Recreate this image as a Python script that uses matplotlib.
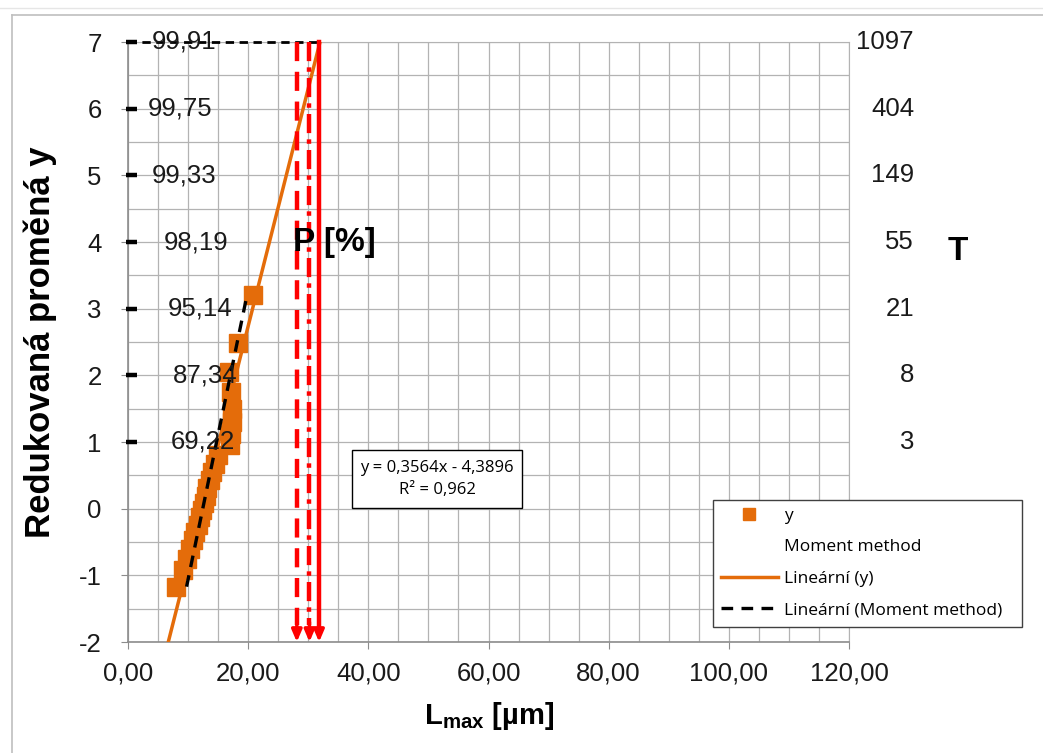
import matplotlib
matplotlib.use("Agg")
import matplotlib.pyplot as plt
from matplotlib.lines import Line2D
from matplotlib.patches import Rectangle
from matplotlib.ticker import MultipleLocator, FuncFormatter
import matplotlib.transforms as mtransforms

plt.rcParams['font.family'] = ['Liberation Sans', 'DejaVu Sans']
plt.rcParams['mathtext.fontset'] = 'custom'
plt.rcParams['mathtext.rm'] = 'Liberation Sans'
plt.rcParams['mathtext.bf'] = 'Liberation Sans:bold'

# ---------------- data ----------------
lmax = [8.0, 9.2, 9.8, 10.3, 10.8, 11.2, 11.6, 12.0, 12.3, 12.6, 12.9, 13.2,
        13.6, 14.0, 14.5, 15.0, 17.0, 17.2, 17.3, 17.3, 17.2, 16.8, 18.3, 20.8]
y_red = [-1.169, -0.927, -0.752, -0.606, -0.476, -0.356, -0.241, -0.131, -0.021,
         0.087, 0.197, 0.309, 0.425, 0.545, 0.672, 0.807, 0.953, 1.113, 1.293,
         1.500, 1.747, 2.057, 2.484, 3.199]

trend_slope = 0.3564
trend_intercept = -4.3896
trend_r2 = 0.962

moment_x = [9.75, 19.8]
moment_y = [-1.17, 3.20]

levels = [7, 6, 5, 4, 3, 2, 1]
p_labels = ["99,91", "99,75", "99,33", "98,19", "95,14", "87,34", "69,22"]
p_label_x = [9.3, 8.6, 9.4, 11.3, 12.0, 12.8, 12.5]
t_labels = ["1097", "404", "149", "55", "21", "8", "3"]

arrow_x = [28.1, 30.2, 31.8]
arrow_styles = [(0, (4.3, 2.4)), (0, (4.3, 1.4, 1.0, 1.4)), '-']
top_line_x = [0, 32.3]

xmin, xmax = 0, 120
ymin, ymax = -2, 7

orange = '#E46C0A'
grid_c = '#b3b3b3'
FS = 18.5

# ---------------- figure ----------------
fig = plt.figure(figsize=(10.43, 7.53), dpi=100)
W, H = 1043, 753
ax = fig.add_axes([128 / W, 1 - 642 / H, (849 - 128) / W, (642 - 42) / H])
ax.set_xlim(xmin, xmax)
ax.set_ylim(ymin, ymax)

ax.xaxis.set_major_locator(MultipleLocator(20))
ax.xaxis.set_minor_locator(MultipleLocator(5))
ax.yaxis.set_major_locator(MultipleLocator(1))
ax.yaxis.set_minor_locator(MultipleLocator(0.5))
ax.grid(which='both', color=grid_c, lw=0.9)
ax.set_axisbelow(True)
ax.xaxis.set_major_formatter(FuncFormatter(lambda v, p: f"{v:.2f}".replace('.', ',')))
ax.yaxis.set_major_formatter(FuncFormatter(lambda v, p: f"{int(round(v))}"))
ax.tick_params(axis='both', which='major', labelsize=FS, length=5, color='#8c8c8c',
               direction='out', labelcolor='#1a1a1a')
ax.tick_params(axis='x', which='major', pad=9)
ax.tick_params(axis='y', which='major', pad=14)
ax.tick_params(which='minor', length=0)
for s in ax.spines.values():
    s.set_color(grid_c)
ax.spines['left'].set_color('#8c8c8c')
ax.spines['bottom'].set_color('#8c8c8c')
ax.spines['left'].set_linewidth(1.2)
ax.spines['bottom'].set_linewidth(1.2)

# trend line (Lineární y)
tx0 = (ymin - trend_intercept) / trend_slope
tx1 = (ymax - trend_intercept) / trend_slope
ax.plot([tx0, tx1], [ymin, ymax], color=orange, lw=2.5, zorder=3)

# data points
ax.plot(lmax, y_red, linestyle='none', marker='s', markersize=13.5,
        color=orange, zorder=3)

# moment method trend line
ax.plot(moment_x, moment_y, color='black', lw=2.4, linestyle=(0, (3.5, 2.5)), zorder=5)

# horizontal dashed at top
ax.plot(top_line_x, [ymax, ymax], color='black', lw=2, linestyle=(0, (3, 2)),
        zorder=5, clip_on=False)

# red arrows
for xa, ls in zip(arrow_x, arrow_styles):
    ax.plot([xa, xa], [ymax, ymin + 0.25], color='red', lw=3.2, linestyle=ls,
            zorder=6, clip_on=False)
    ax.annotate('', xy=(xa, ymin), xytext=(xa, ymin + 0.3),
                arrowprops=dict(arrowstyle='-|>,head_length=0.7,head_width=0.3',
                                color='red', lw=2.5, shrinkA=0, shrinkB=0),
                zorder=6)

# thick dashes + P labels
for lv, lab, xl in zip(levels, p_labels, p_label_x):
    ax.plot([-0.3, 1.5], [lv, lv], color='black', lw=3.2, solid_capstyle='butt',
            zorder=6, clip_on=False)
    ax.text(xl, lv, lab, fontsize=FS, ha='center', va='center', color='#1a1a1a',
            zorder=7)

ax.text(34.4, 4.0, "P [%]", fontsize=24, fontweight='bold', ha='center',
        va='center', zorder=7)

# right T labels
trans = mtransforms.blended_transform_factory(ax.transAxes, ax.transData)
for lv, lab in zip(levels, t_labels):
    ax.text((914 - 128) / 721, lv, lab, fontsize=FS, ha='right', va='center',
            transform=trans, color='#1a1a1a')
fig.text(958 / W, 1 - 252 / H, "T", fontsize=24, fontweight='bold',
         ha='center', va='center')

# axis labels
fig.text(40 / W, 1 - 342 / H, "Redukovaná proměná y", fontsize=25,
         fontweight='bold', rotation=90, ha='center', va='center')
fig.text(489 / W, 1 - 716 / H, r"$\mathbf{L_{max}}$ [µm]", fontsize=21,
         fontweight='bold', ha='center', va='center')

# equation box
fig.add_artist(Rectangle((352 / W, 1 - 508 / H), 170 / W, 58 / H,
                         transform=fig.transFigure, facecolor='white',
                         edgecolor='black', lw=1, zorder=8))
eq_txt = (f"y = {trend_slope:.4f}x - {abs(trend_intercept):.4f}".replace('.', ',')
          + "\n" + f"R² = {trend_r2:.3f}".replace('.', ','))
fig.text(437 / W, 1 - 479 / H, eq_txt, fontsize=12, ha='center', va='center',
         family='Open Sans', linespacing=1.5, zorder=9)

# legend
fig.add_artist(Rectangle((713 / W, 1 - 627 / H), 309 / W, 127 / H,
                         transform=fig.transFigure, facecolor='white',
                         edgecolor='#404040', lw=1, zorder=8))
handles = [
    Line2D([], [], linestyle='none', marker='s', markersize=9, color=orange),
    Line2D([], [], linestyle='none'),
    Line2D([], [], color=orange, lw=2.5),
    Line2D([], [], color='black', lw=2.4, linestyle=(0, (3.5, 2.5))),
]
labels = ["y", "Moment method", "Lineární (y)", "Lineární (Moment method)"]
leg = fig.legend(handles, labels, loc='upper left',
                 bbox_to_anchor=(713 / W, 1 - 500 / H),
                 bbox_transform=fig.transFigure, frameon=False, borderaxespad=0,
                 prop={'family': 'Open Sans', 'size': 12.5},
                 handlelength=3.3, handletextpad=0.35, labelspacing=0.88,
                 borderpad=0.45)
leg.set_zorder(9)

# chart area border
fig.add_artist(Line2D([12 / W, 12 / W], [0, 1 - 15 / H], color='#bfbfbf', lw=1.2,
                      transform=fig.transFigure))
fig.add_artist(Line2D([12 / W, 1], [1 - 15 / H, 1 - 15 / H], color='#bfbfbf', lw=1.2,
                      transform=fig.transFigure))
fig.add_artist(Line2D([0, 1], [1 - 8 / H, 1 - 8 / H], color='#e6e6e6', lw=1,
                      transform=fig.transFigure))

fig.savefig("out.png", dpi=100)
